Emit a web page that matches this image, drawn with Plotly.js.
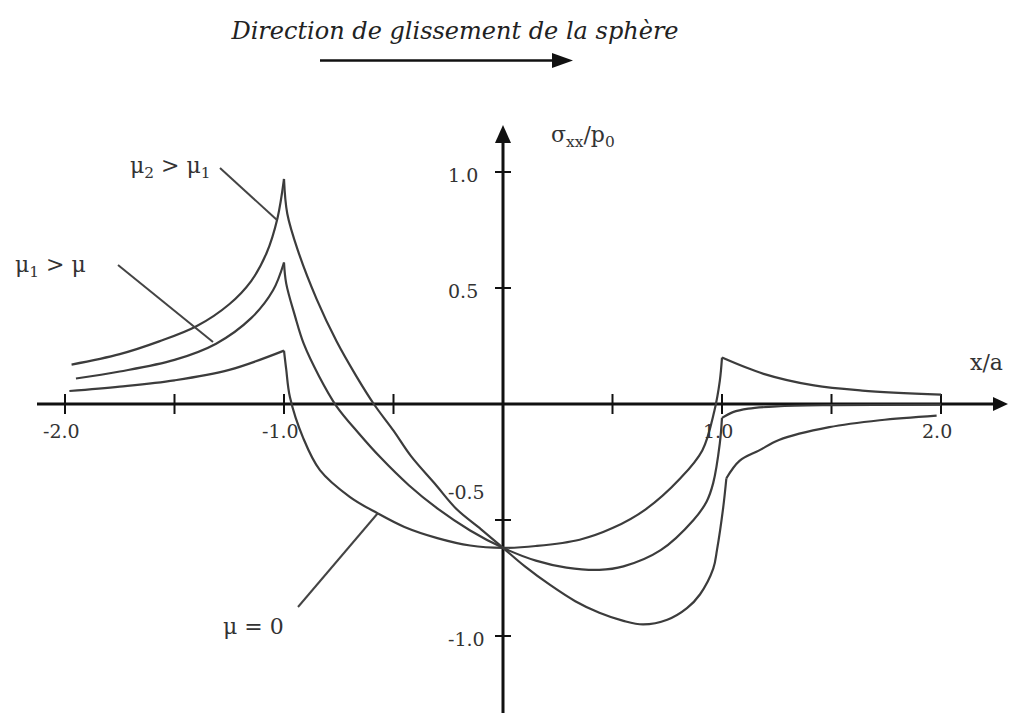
<!DOCTYPE html>
<html>
<head>
<meta charset="utf-8">
<script src="https://cdn.plot.ly/plotly-3.0.1.min.js"></script>
<style>
  html, body { margin: 0; padding: 0; background: #fff; }
  #chart { width: 1010px; height: 713px; }
</style>
</head>
<body>
<div id="chart"></div>
<script>
// Surface stress sigma_xx / p0 along x/a under a sliding sphere, three friction levels.
// Each curve is split at its cusps (x/a = -1, +1) so the spline keeps the sharp corners.

// mu = 0
const mu0LeftX  = [-1.98, -1.75, -1.5, -1.25, -1.0];
const mu0LeftY  = [0.056, 0.075, 0.102, 0.147, 0.23];
const mu0InX    = [-1.0, -0.99, -0.973, -0.913, -0.836, -0.70, -0.575, -0.45, -0.30, -0.15, 0, 0.15, 0.35, 0.50, 0.65, 0.81, 0.91, 0.965, 0.99, 1.0];
const mu0InY    = [0.23, 0.15, 0.03, -0.145, -0.285, -0.40, -0.47, -0.53, -0.578, -0.61, -0.62, -0.612, -0.585, -0.535, -0.455, -0.32, -0.20, -0.03, 0.10, 0.20];
const mu0RightX = [1.0, 1.19, 1.42, 1.64, 2.0];
const mu0RightY = [0.20, 0.13, 0.08, 0.058, 0.04];

// mu1 > mu
const mu1LeftX  = [-1.95, -1.75, -1.5, -1.31, -1.15, -1.05, -1.0];
const mu1LeftY  = [0.11, 0.14, 0.19, 0.26, 0.37, 0.49, 0.61];
const mu1InX    = [-1.0, -0.99, -0.95, -0.91, -0.84, -0.76, -0.66, -0.56, -0.43, -0.30, -0.15, 0, 0.15, 0.29, 0.44, 0.55, 0.72, 0.87, 0.93, 0.96, 0.99, 1.0];
const mu1InY    = [0.61, 0.52, 0.38, 0.26, 0.12, -0.01, -0.125, -0.23, -0.35, -0.45, -0.545, -0.62, -0.675, -0.705, -0.715, -0.70, -0.63, -0.50, -0.42, -0.34, -0.17, -0.06];
const mu1RightX = [1.0, 1.05, 1.12, 1.25, 1.5, 2.0];
const mu1RightY = [-0.06, -0.035, -0.02, -0.01, -0.005, -0.003];

// mu2 > mu1
const mu2LeftX  = [-1.97, -1.75, -1.57, -1.40, -1.25, -1.15, -1.08, -1.03, -1.0];
const mu2LeftY  = [0.17, 0.215, 0.27, 0.335, 0.43, 0.53, 0.65, 0.80, 0.97];
const mu2InX    = [-1.0, -0.985, -0.936, -0.85, -0.76, -0.67, -0.59, -0.50, -0.42, -0.31, -0.21, -0.10, 0, 0.10, 0.215, 0.33, 0.44, 0.55, 0.64, 0.75, 0.84, 0.90, 0.96, 0.977, 1.005, 1.02];
const mu2InY    = [0.97, 0.82, 0.66, 0.45, 0.27, 0.12, 0.0, -0.115, -0.225, -0.345, -0.455, -0.54, -0.62, -0.70, -0.78, -0.85, -0.90, -0.935, -0.95, -0.93, -0.88, -0.82, -0.71, -0.63, -0.45, -0.32];
const mu2RightX = [1.02, 1.08, 1.17, 1.26, 1.49, 1.72, 1.98];
const mu2RightY = [-0.32, -0.245, -0.20, -0.155, -0.10, -0.07, -0.05];

// axis ticks and their labels
const xTickVals  = [-2, -1.5, -1, -0.5, 0.5, 1, 1.5, 2];
const xLabelVals = [-2, -1, 1, 2];
const xLabelText = ['-2.0', '-1.0', '1.0', '2.0'];
const yTickVals  = [1, 0.5, -0.5, -1];
const yLabelText = ['1.0', '0.5', '-0.5', '-1.0'];

// curve labels
const curveLabels = ['μ<sub>2</sub> > μ<sub>1</sub>', 'μ<sub>1</sub> > μ', 'μ = 0'];
const chartTitle  = 'Direction de glissement de la sphère';
const yAxisLabel  = 'σ<sub>xx</sub>/p<sub>0</sub>';
const xAxisLabel  = 'x/a';

// ---- drawing ----
const W = 1010, H = 713;
const X0 = 503, XS = 219;   // pixel column of x/a = 0, pixels per unit
const Y0 = 404, YS = 232;   // pixel row of sigma = 0, pixels per unit
const X = px => (px - X0) / XS;
const Y = py => (Y0 - py) / YS;

const INK = '#111';
const CURVE = '#3c3c3c';
const SERIF = 'DejaVu Serif, Liberation Serif, serif';

const curves = [
  { name: 'μ = 0',   segs: [[mu0LeftX, mu0LeftY], [mu0InX, mu0InY], [mu0RightX, mu0RightY]] },
  { name: 'μ1 > μ',  segs: [[mu1LeftX, mu1LeftY], [mu1InX, mu1InY], [mu1RightX, mu1RightY]] },
  { name: 'μ2 > μ1', segs: [[mu2LeftX, mu2LeftY], [mu2InX, mu2InY], [mu2RightX, mu2RightY]] }
];

const traces = [];
curves.forEach(c => {
  c.segs.forEach(([xs, ys]) => {
    traces.push({
      type: 'scatter', mode: 'lines', name: c.name, showlegend: false,
      x: xs, y: ys, hoverinfo: 'skip',
      line: { color: CURVE, width: 2.2, shape: 'spline', smoothing: 1 }
    });
  });
});

const shapes = [];
// axes with arrow heads
shapes.push({ type: 'line', layer: 'below', x0: X(37), x1: X(996), y0: 0, y1: 0, line: { color: INK, width: 3 } });
shapes.push({ type: 'path', path: `M ${X(993)},${Y(397)} L ${X(1008)},0 L ${X(993)},${Y(411)} Z`, fillcolor: INK, line: { width: 0 } });
shapes.push({ type: 'line', layer: 'below', x0: 0, x1: 0, y0: Y(H + 5), y1: Y(140), line: { color: INK, width: 3 } });
shapes.push({ type: 'path', path: `M ${X(495)},${Y(143)} L 0,${Y(125)} L ${X(511)},${Y(143)} Z`, fillcolor: INK, line: { width: 0 } });
// tick marks crossing the axes
xTickVals.forEach(v => shapes.push({ type: 'line', layer: 'below', x0: v, x1: v, y0: -10 / YS, y1: 10 / YS, line: { color: INK, width: 2 } }));
yTickVals.forEach(v => shapes.push({ type: 'line', layer: 'below', x0: -8 / XS, x1: 8 / XS, y0: v, y1: v, line: { color: INK, width: 2 } }));
// sliding direction arrow under the heading
shapes.push({ type: 'line', x0: X(320), x1: X(556), y0: Y(60.5), y1: Y(60.5), line: { color: INK, width: 2.5 } });
shapes.push({ type: 'path', path: `M ${X(552)},${Y(53)} L ${X(573)},${Y(60.5)} L ${X(552)},${Y(68)} Z`, fillcolor: INK, line: { width: 0 } });
// leader lines from curve labels to their curves
const leaders = [
  [X(220), Y(168), X(277), Y(220)],
  [X(118), Y(265), X(213), Y(342)],
  [X(298), Y(607), X(378), Y(513)]
];
leaders.forEach(([a, b, c, d]) => shapes.push({ type: 'line', x0: a, y0: b, x1: c, y1: d, line: { color: '#444', width: 2 } }));

const annotations = [];
const tickFont = { family: SERIF, size: 19, color: '#333' };
xLabelVals.forEach((v, i) => annotations.push({
  x: v, y: 0, xref: 'x', yref: 'y', text: xLabelText[i], showarrow: false,
  xanchor: 'center', yanchor: 'middle', xshift: -4, yshift: -27, font: tickFont
}));
yTickVals.forEach((v, i) => annotations.push({
  x: X(446), y: v, xref: 'x', yref: 'y', text: yLabelText[i], showarrow: false,
  xanchor: 'left', yanchor: 'middle', yshift: v === -0.5 ? 28 : -3, font: tickFont
}));

const labelFont = { family: SERIF, size: 22, color: '#333' };
const labelPos = [[X(170), Y(167)], [X(50), Y(266)], [X(253), Y(626)]];
curveLabels.forEach((t, i) => annotations.push({
  x: labelPos[i][0], y: labelPos[i][1], xref: 'x', yref: 'y', text: t, showarrow: false,
  xanchor: 'center', yanchor: 'middle', font: labelFont
}));
annotations.push({ x: X(583), y: Y(136), xref: 'x', yref: 'y', text: yAxisLabel, showarrow: false,
  xanchor: 'center', yanchor: 'middle', font: labelFont });
annotations.push({ x: X(968), y: Y(362), xref: 'x', yref: 'y', text: xAxisLabel, showarrow: false,
  xanchor: 'left', yanchor: 'middle', font: labelFont });

const layout = {
  width: W, height: H,
  margin: { l: 0, r: 0, t: 0, b: 0, pad: 0 },
  paper_bgcolor: '#fff', plot_bgcolor: '#fff',
  title: {
    text: '<i>' + chartTitle + '</i>',
    x: 455 / W, xanchor: 'center', y: 1 - 31 / H, yanchor: 'middle',
    font: { family: SERIF, size: 24, color: '#222' }
  },
  xaxis: { range: [X(0), X(W)], visible: false, fixedrange: true },
  yaxis: { range: [Y(H), Y(0)], visible: false, fixedrange: true },
  shapes: shapes,
  annotations: annotations,
  showlegend: false
};

Plotly.newPlot('chart', traces, layout, { staticPlot: true, displayModeBar: false });
</script>
</body>
</html>
